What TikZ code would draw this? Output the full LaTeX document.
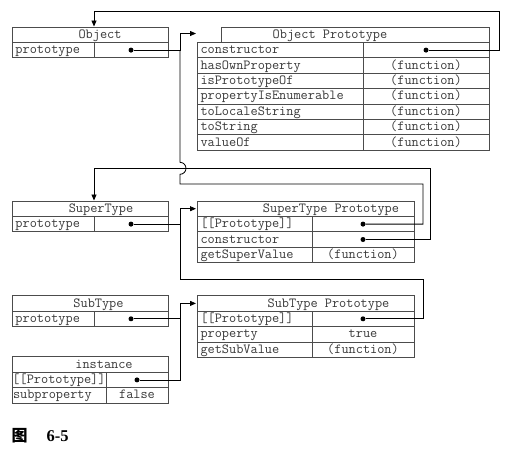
\documentclass[tikz,border=0pt]{standalone}
\usepackage{fontspec}
\newfontfamily\cjkfont{Noto Sans CJK SC}
\newfontfamily\capfont{Liberation Serif}
\usetikzlibrary{arrows.meta}
\definecolor{boxc}{gray}{0.3}
\definecolor{txtc}{gray}{0.22}
\newcommand\tabfont{\ttfamily\fontsize{13.9pt}{15pt}\selectfont}
\begin{document}
\begin{tikzpicture}[x=1pt,y=-1pt,
  cell/.style={draw=boxc, line width=0.7pt, outer sep=0pt, inner ysep=0pt,
    minimum height=15.4pt, anchor=north west, font=\tabfont, text=txtc,
    text height=9.6pt, text depth=2.4pt},
  lc/.style={cell, inner xsep=3.5pt, text width=#1pt, align=left},
  vc/.style={cell, inner xsep=0pt, minimum width=#1pt, align=center},
  dot/.style={circle, fill=black, inner sep=0pt, minimum size=5pt},
  conn/.style={draw=black, line width=0.8pt},
  arr/.style={conn, -{Triangle[length=6pt,width=5pt]}}]
\fill[white] (0,0) rectangle (506,451);
\useasboundingbox (0,0) rectangle (506,451);

% ---- Object
\node[vc=156] (objH) at (12,27) {\hspace*{20pt}Object};
\node[lc=75] (objK) at (12,42.4) {prototype};
\node[vc=74] (objV) at (94,42.4) {};

% ---- Object Prototype
\node[vc=268] (opH) at (221,27) {Object Prototype\hspace*{50pt}};
\node[lc=159] (opK1) at (197,42.4) {constructor};
\node[vc=126] (opV1) at (363,42.4) {};
\node[lc=159] (opK2) at (197,57.8) {hasOwnProperty};
\node[vc=126] (opV2) at (363,57.8) {(function)};
\node[lc=159] (opK3) at (197,73.2) {isPrototypeOf};
\node[vc=126] (opV3) at (363,73.2) {(function)};
\node[lc=159] (opK4) at (197,88.6) {propertyIsEnumerable};
\node[vc=126] (opV4) at (363,88.6) {(function)};
\node[lc=159] (opK5) at (197,104) {toLocaleString};
\node[vc=126] (opV5) at (363,104) {(function)};
\node[lc=159] (opK6) at (197,119.4) {toString};
\node[vc=126] (opV6) at (363,119.4) {(function)};
\node[lc=159] (opK7) at (197,134.8) {valueOf};
\node[vc=126] (opV7) at (363,134.8) {(function)};

% ---- SuperType
\node[vc=156] (stH) at (12,201) {\hspace*{22pt}SuperType};
\node[lc=75] (stK) at (12,216.4) {prototype};
\node[vc=74] (stV) at (94,216.4) {};

% ---- SuperType Prototype
\node[vc=217] (spH) at (197,201) {\hspace*{51pt}SuperType Prototype};
\node[lc=108] (spK1) at (197,216.4) {[[Prototype]]};
\node[vc=102] (spV1) at (312,216.4) {};
\node[lc=108] (spK2) at (197,231.8) {constructor};
\node[vc=102] (spV2) at (312,231.8) {};
\node[lc=108] (spK3) at (197,247.2) {getSuperValue};
\node[vc=102] (spV3) at (312,247.2) {(function)};

% ---- SubType
\node[vc=156] (sbH) at (12,295.7) {\hspace*{17pt}SubType};
\node[lc=75] (sbK) at (12,311.1) {prototype};
\node[vc=74] (sbV) at (94,311.1) {};

% ---- SubType Prototype
\node[vc=217] (suH) at (197,295.7) {\hspace*{46pt}SubType Prototype};
\node[lc=108] (suK1) at (197,311.1) {[[Prototype]]};
\node[vc=102] (suV1) at (312,311.1) {};
\node[lc=108] (suK2) at (197,326.5) {property};
\node[vc=102] (suV2) at (312,326.5) {true};
\node[lc=108] (suK3) at (197,341.9) {getSubValue};
\node[vc=102] (suV3) at (312,341.9) {(function)};

% ---- instance
\node[vc=156] (inH) at (12,356.8) {\hspace*{28pt}instance};
\node[cell, inner xsep=0.5pt, text width=93pt, align=left] (inK1) at (12,372.2) {[[Prototype]]};
\node[vc=62] (inV1) at (106,372.2) {};
\node[cell, inner xsep=1pt, text width=92pt, align=left] (inK2) at (12,387.6) {subproperty};
\node[vc=62] (inV2) at (106,387.6) {false};

% ---- dots
\node[dot] (o1) at (objV.center) {};
\node[dot] (oc) at (opV1.center) {};
\node[dot] (s1) at (stV.center) {};
\node[dot] (sp1) at (spV1.center) {};
\node[dot] (sc) at (spV2.center) {};
\node[dot] (u1) at (sbV.center) {};
\node[dot] (sb1) at (suV1.center) {};
\node[dot] (i1) at (inV1.center) {};

% ---- coordinates
\coordinate (busTop) at (180,33.5);
\coordinate (opIn) at (196,33.5);
\coordinate (topR) at (499,11);
\coordinate (objIn) at (94,26.5);
\coordinate (r1) at (423,184);
\coordinate (b1) at (180,184);
\coordinate (jumpLo) at (180,174.3);
\coordinate (j1) at (busTop |- o1);
\coordinate (r3) at (430,168.3);
\coordinate (stIn) at (94,200.5);
\coordinate (b2) at (180,208.7);
\coordinate (spIn) at (196,208.7);
\coordinate (r2) at (423,279);
\coordinate (b3) at (180,279);
\coordinate (j2) at (b3 |- s1);
\coordinate (b4) at (180,303.4);
\coordinate (sbIn) at (196,303.4);
\coordinate (j3) at (b4 |- u1);

% ---- connectors
\draw[arr] (o1) -| (busTop) -- (opIn);
\draw[arr] (oc) -| (topR) -| (objIn);
\draw[arr] (sc) -| (r3) -| (stIn);
\draw[conn] (sp1) -| (r1) -- (b1) -- (jumpLo)
  arc[start angle=-90, end angle=90, radius=6pt] -- (j1);
\draw[arr] (s1) -| (b2) -- (spIn);
\draw[conn] (sb1) -| (r2) -- (b3) -- (j2);
\draw[arr] (u1) -| (b4) -- (sbIn);
\draw[conn] (i1) -| (j3);

% ---- caption
\node[inner sep=0pt, anchor=west] (figA) at (11.5,435.5)
  {\cjkfont\bfseries\fontsize{16pt}{18pt}\selectfont 图};
\node[inner sep=0pt, anchor=base west] (figB) at (46.5,441.7)
  {\capfont\bfseries\fontsize{16.5pt}{18pt}\selectfont 6-5};
\end{tikzpicture}
\end{document}
